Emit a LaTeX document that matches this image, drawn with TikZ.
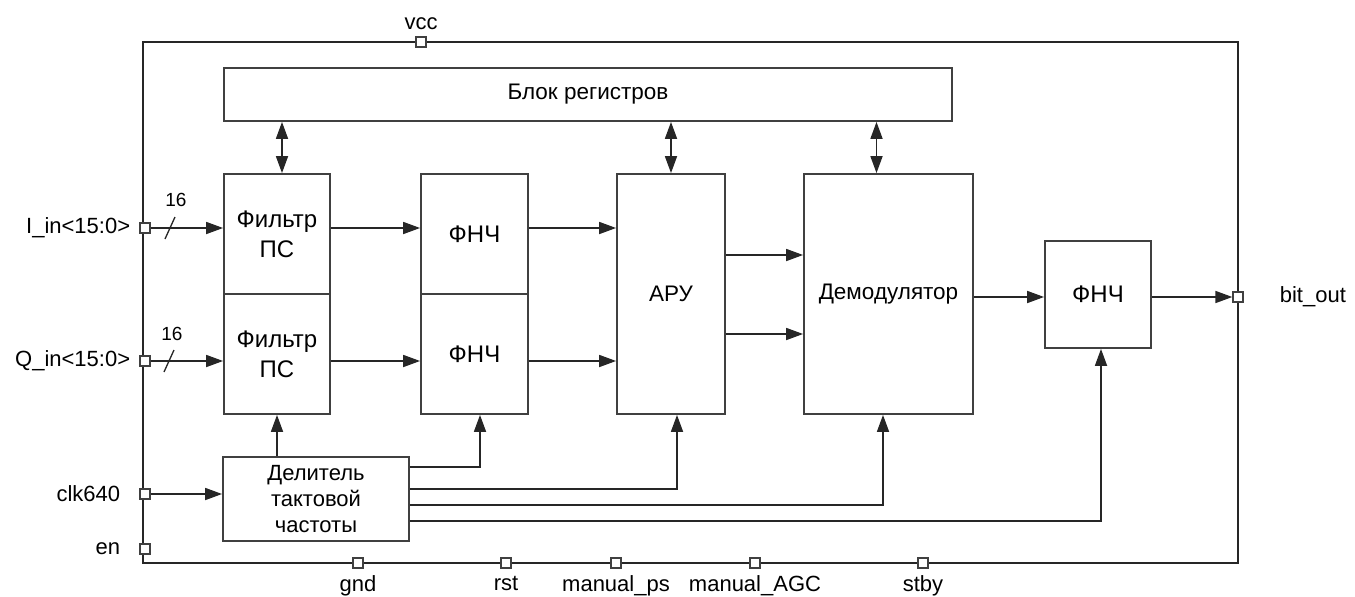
\documentclass[tikz,border=0pt]{standalone}
\usepackage{fontspec}
\setmainfont{Liberation Sans}
\usetikzlibrary{arrows.meta, positioning}
\tikzset{
  block/.style={rectangle, draw=black!75, line width=1.8pt, fill=white,
    align=center, inner sep=0pt, font=\fontsize{22.5}{26}\selectfont},
  bigtext/.style={font=\fontsize{24}{30}\selectfont},
  port/.style={rectangle, draw=black!75, line width=1.3pt, fill=white,
    minimum size=10pt, inner sep=0pt},
  portlabel/.style={font=\fontsize{22}{26}\selectfont, inner sep=0pt},
  buswidth/.style={font=\fontsize{19}{22}\selectfont, inner sep=0pt},
  arrowline/.style={-{Triangle[length=17pt,width=12pt]}, line width=1.7pt, black!85},
  biarrow/.style={{Triangle[length=17pt,width=12pt]}-{Triangle[length=17pt,width=12pt]},
    line width=1.7pt, black!85},
  frame/.style={draw=black!85, line width=2.4pt}
}

\begin{document}
\begin{tikzpicture}[x=1pt, y=-1pt]
  \useasboundingbox (0,0) rectangle (1355,597);
  \draw[frame] (143,42) rectangle (1238,563);

  \node[block, minimum width=728pt, minimum height=53pt] (reg) at (588,94.5) {Блок регистров};
  \node[block, bigtext, minimum width=106pt, minimum height=120pt] (filtI) at (277,234) {Фильтр\\ПС};
  \node[block, bigtext, minimum width=106pt, minimum height=120pt] (filtQ) at (277,354) {Фильтр\\ПС};
  \node[block, bigtext, minimum width=107pt, minimum height=120pt] (lpfI) at (474.5,234) {ФНЧ};
  \node[block, bigtext, minimum width=107pt, minimum height=120pt] (lpfQ) at (474.5,354) {ФНЧ};
  \node[block, minimum width=108pt, minimum height=240pt] (agc) at (671,294) {АРУ};
  \node[block, minimum width=169pt, minimum height=240pt] (demod) at (888.5,294) {Демодулятор};
  \node[block, bigtext, minimum width=106pt, minimum height=107pt] (lpfOut) at (1098,294.5) {ФНЧ};
  \node[block, font=\fontsize{22}{26}\selectfont, minimum width=186pt, minimum height=84pt] (div) at (316,499) {Делитель\\тактовой\\частоты};

  \node[port, label={[portlabel, label distance=6pt]above:vcc}] (pVcc) at (421,42) {};
  \node[port, label={[portlabel, label distance=9pt]left:I\_in<15:0>}] (pI) at (145,228) {};
  \node[port, label={[portlabel, label distance=9pt]left:Q\_in<15:0>}] (pQ) at (145,361) {};
  \node[port, label={[portlabel, label distance=19pt]left:clk640}] (pClk) at (145,494) {};
  \node[port, label={[portlabel, label distance=19pt]left:en}] (pEn) at (145,549) {};
  \node[port, label={[portlabel, label distance=7pt]below:gnd}] (pGnd) at (358,563) {};
  \node[port, label={[portlabel, label distance=7pt]below:rst}] (pRst) at (506,563) {};
  \node[port, label={[portlabel, label distance=7pt]below:manual\_ps}] (pMps) at (616,563) {};
  \node[port, label={[portlabel, label distance=7pt]below:manual\_AGC}] (pMagc) at (755,563) {};
  \node[port, label={[portlabel, label distance=7pt]below:stby}] (pStby) at (923,563) {};
  \node[port, label={[portlabel, label distance=36pt]right:bit\_out}] (pOut) at (1238,297) {};

  \node[buswidth] (wI) at (176,200) {16};
  \node[buswidth] (wQ) at (172,334) {16};
  \draw[line width=1.3pt, black!85] (165,239) -- (175,217);
  \draw[line width=1.3pt, black!85] (164,372) -- (174,350);

  \draw[arrowline] (pI.east) -- (filtI.west |- pI);
  \draw[arrowline] (pQ.east) -- (filtQ.west |- pQ);
  \draw[arrowline] (filtI.east |- pI) -- (lpfI.west |- pI);
  \draw[arrowline] (filtQ.east |- pQ) -- (lpfQ.west |- pQ);
  \draw[arrowline] (lpfI.east |- pI) -- (agc.west |- pI);
  \draw[arrowline] (lpfQ.east |- pQ) -- (agc.west |- pQ);
  \draw[arrowline] ([yshift=39pt]agc.east) -- ([yshift=39pt]demod.west);
  \draw[arrowline] ([yshift=-40pt]agc.east) -- ([yshift=-40pt]demod.west);
  \draw[arrowline] (demod.east |- pOut) -- (lpfOut.west |- pOut);
  \draw[arrowline] (lpfOut.east |- pOut) -- (pOut.west);

  \draw[biarrow] ([xshift=5pt]filtI.north |- reg.south) -- ([xshift=5pt]filtI.north);
  \draw[biarrow] (agc.north |- reg.south) -- (agc.north);
  \draw[biarrow] ([xshift=-12pt]demod.north |- reg.south) -- ([xshift=-12pt]demod.north);

  \draw[arrowline] (pClk.east) -- (div.west |- pClk);
  \draw[arrowline] (filtQ.south |- div.north) -- (filtQ.south);
  \draw[arrowline] ([yshift=32pt]div.east) -| ([xshift=5.5pt]lpfQ.south);
  \draw[arrowline] ([yshift=10pt]div.east) -| ([xshift=6pt]agc.south);
  \draw[arrowline] ([yshift=-6pt]div.east) -| ([xshift=-5.5pt]demod.south);
  \draw[arrowline] ([yshift=-22pt]div.east) -| ([xshift=3pt]lpfOut.south);
\end{tikzpicture}
\end{document}
